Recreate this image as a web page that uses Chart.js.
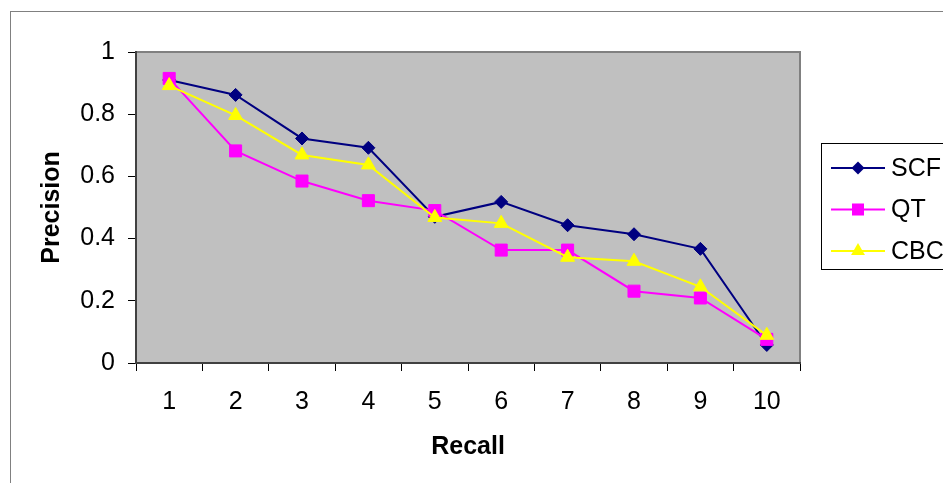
<!DOCTYPE html>
<html>
<head>
<meta charset="utf-8">
<script src="https://cdn.jsdelivr.net/npm/chart.js@4/dist/chart.umd.min.js"></script>
<style>
  html, body { margin: 0; padding: 0; background: #ffffff; }
  #wrap { position: relative; width: 943px; height: 483px; }
</style>
</head>
<body>
<div id="wrap"><canvas id="c"></canvas></div>
<script>
// ---- data ----
const recall = ['1', '2', '3', '4', '5', '6', '7', '8', '9', '10'];
const scf = [0.91, 0.862, 0.722, 0.692, 0.47, 0.518, 0.443, 0.414, 0.367, 0.058];
const qt  = [0.915, 0.682, 0.585, 0.522, 0.49, 0.363, 0.363, 0.231, 0.209, 0.076];
const cbc = [0.892, 0.796, 0.669, 0.637, 0.468, 0.449, 0.34, 0.327, 0.245, 0.089];
const yTicks = [0, 0.2, 0.4, 0.6, 0.8, 1];
const seriesNames = ['SCF', 'QT', 'CBC'];

const FONT = "'Liberation Sans', Arial, sans-serif";

function drawMarker(ctx, style, color, x, y, r) {
  ctx.save();
  ctx.fillStyle = color;
  ctx.beginPath();
  if (style === 'rectRot') {
    ctx.moveTo(x - r, y); ctx.lineTo(x, y - r); ctx.lineTo(x + r, y); ctx.lineTo(x, y + r);
  } else if (style === 'rect') {
    const s = Math.SQRT1_2 * r;
    ctx.rect(x - s, y - s, 2 * s, 2 * s);
  } else {
    ctx.moveTo(x, y - r);
    ctx.lineTo(x + r * Math.sin(2 * Math.PI / 3), y + r / 2);
    ctx.lineTo(x - r * Math.sin(2 * Math.PI / 3), y + r / 2);
  }
  ctx.closePath();
  ctx.fill();
  ctx.restore();
}

const framePlugin = {
  id: 'frame',
  beforeDraw(chart) {
    const ctx = chart.ctx, a = chart.chartArea;
    ctx.save();
    ctx.fillStyle = '#ffffff';
    ctx.fillRect(0, 0, chart.width, chart.height);
    // outer chart border
    ctx.strokeStyle = '#808080';
    ctx.lineWidth = 1;
    ctx.strokeRect(10.5, 11.5, 3000, 3000);
    // plot area
    ctx.fillStyle = '#c0c0c0';
    ctx.fillRect(a.left, a.top, a.right - a.left, a.bottom - a.top);
    ctx.strokeStyle = '#808080';
    ctx.lineWidth = 2;
    ctx.beginPath();
    ctx.moveTo(a.left, a.top);
    ctx.lineTo(a.right, a.top);
    ctx.lineTo(a.right, a.bottom);
    ctx.stroke();
    ctx.restore();
  },
  afterDraw(chart) {
    const ctx = chart.ctx;
    ctx.save();
    // legend box
    ctx.strokeStyle = '#000000';
    ctx.lineWidth = 1;
    ctx.fillStyle = '#ffffff';
    ctx.fillRect(821.5, 143.5, 200, 126);
    ctx.strokeRect(821.5, 143.5, 200, 126);
    ctx.font = '25px ' + FONT;
    ctx.textBaseline = 'middle';
    ctx.textAlign = 'left';
    chart.data.datasets.forEach((ds, i) => {
      const y = 168 + i * 41.5;
      ctx.strokeStyle = ds.borderColor;
      ctx.lineWidth = 2;
      ctx.beginPath();
      ctx.moveTo(831, y);
      ctx.lineTo(885, y);
      ctx.stroke();
      drawMarker(ctx, ds.pointStyle, ds.pointBackgroundColor, 858, y, ds.pointRadius);
      ctx.fillStyle = '#000000';
      ctx.fillText(ds.label, 891, y + 1);
    });
    ctx.restore();
  }
};

new Chart(document.getElementById('c'), {
  type: 'line',
  data: {
    labels: recall,
    datasets: [
      { label: seriesNames[0], data: scf, borderColor: '#000080', backgroundColor: '#000080',
        pointBackgroundColor: '#000080', pointBorderColor: '#000080', pointBorderWidth: 1,
        pointStyle: 'rectRot', pointRadius: 6.5, borderWidth: 2, order: 3 },
      { label: seriesNames[1], data: qt, borderColor: '#ff00ff', backgroundColor: '#ff00ff',
        pointBackgroundColor: '#ff00ff', pointBorderColor: '#ff00ff', pointBorderWidth: 1,
        pointStyle: 'rect', pointRadius: 8.5, borderWidth: 2, order: 2 },
      { label: seriesNames[2], data: cbc, borderColor: '#ffff00', backgroundColor: '#ffff00',
        pointBackgroundColor: '#ffff00', pointBorderColor: '#ffff00', pointBorderWidth: 1,
        pointStyle: 'triangle', pointRadius: 8, borderWidth: 2, order: 1 }
    ]
  },
  options: {
    responsive: true,
    maintainAspectRatio: false,
    animation: false,
    events: [],
    layout: { padding: { left: 30, top: 52, right: 143, bottom: 20 } },
    plugins: { legend: { display: false }, tooltip: { enabled: false } },
    scales: {
      x: {
        type: 'category',
        offset: true,
        grid: { offset: true, drawOnChartArea: false, drawTicks: true, tickLength: 8, color: '#000000', lineWidth: 1 },
        border: { display: true, color: '#404040', width: 2 },
        ticks: { color: '#000000', font: { family: FONT, size: 25 }, padding: 16, maxRotation: 0, autoSkip: false },
        title: { display: true, text: 'Recall', color: '#000000',
                 font: { family: FONT, size: 25, weight: 'bold', lineHeight: 1.2 }, padding: { top: 0, bottom: 1 } },
        afterFit(scale) { scale.height = 100; }
      },
      y: {
        min: 0, max: 1,
        afterBuildTicks(scale) { scale.ticks = yTicks.map(v => ({ value: v })); },
        grid: { drawOnChartArea: false, drawTicks: true, tickLength: 8, color: '#000000', lineWidth: 1 },
        border: { display: true, color: '#404040', width: 2 },
        ticks: { color: '#000000', font: { family: FONT, size: 25 }, padding: 13,
                 callback: (v) => String(v) },
        title: { display: true, text: 'Precision', color: '#000000',
                 font: { family: FONT, size: 25, weight: 'bold', lineHeight: 1.2 }, padding: { top: 7, bottom: 0 } },
        afterFit(scale) { scale.width = 106; }
      }
    }
  },
  plugins: [framePlugin]
});
</script>
</body>
</html>
